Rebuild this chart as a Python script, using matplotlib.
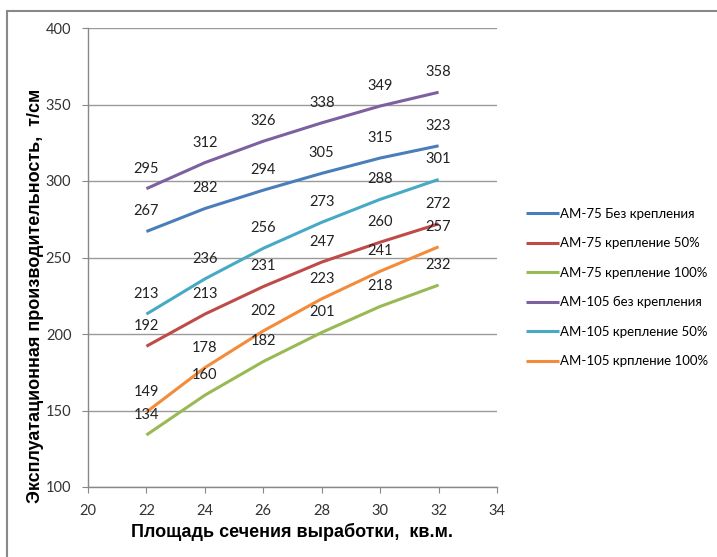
import matplotlib
matplotlib.use("Agg")
import matplotlib.pyplot as plt
from matplotlib.patches import Rectangle

# Cross-section area of the working, sq. m
x_area = [22, 24, 26, 28, 30, 32]

series_names = [
    "АМ-75 Без крепления",
    "АМ-75 крепление 50%",
    "АМ-75 крепление 100%",
    "АМ-105 без крепления",
    "АМ-105 крепление 50%",
    "АМ-105 крпление 100%",
]
am75_none = [267, 282, 294, 305, 315, 323]
am75_50 = [192, 213, 231, 247, 260, 272]
am75_100 = [134, 160, 182, 201, 218, 232]
am105_none = [295, 312, 326, 338, 349, 358]
am105_50 = [213, 236, 256, 273, 288, 301]
am105_100 = [149, 178, 202, 223, 241, 257]

colors = ["#4A7EBB", "#BE4B48", "#98B954", "#7D60A0", "#46AAC5", "#F38B3A"]

x_ticks = [20, 22, 24, 26, 28, 30, 32, 34]
y_ticks = [100, 150, 200, 250, 300, 350, 400]

W, H = 717, 557
fig = plt.figure(figsize=(W / 100, H / 100), dpi=100)
fig.patch.set_facecolor("white")

# outer chart frame
fig.patches.append(Rectangle((7 / W, 1 - 560 / H), 720 / W, 549 / H,
                             transform=fig.transFigure, fill=False,
                             edgecolor="#888888", linewidth=1.5))

left, right, top, bottom = 88, 497, 28, 487
ax = fig.add_axes([left / W, 1 - bottom / H, (right - left) / W, (bottom - top) / H])

label_font = "Lato"
all_series = [am75_none, am75_50, am75_100, am105_none, am105_50, am105_100]
for name, vals, col in zip(series_names, all_series, colors):
    ax.plot(x_area, vals, color=col, linewidth=2.2, label=name,
            solid_capstyle="butt")
    for xv, yv in zip(x_area, vals):
        ax.annotate(str(yv), (xv, yv), xytext=(0, 14.5), textcoords="offset points",
                    ha="center", va="center", fontsize=10.5, family=label_font,
                    color="#222222")

ax.set_xlim(20, 34)
ax.set_ylim(100, 400)
ax.set_xticks(x_ticks)
ax.set_yticks(y_ticks)
ax.tick_params(axis="x", direction="out", length=4, color="#888888",
               labelsize=10.5, labelcolor="#333333", pad=8)
ax.tick_params(axis="y", direction="out", length=4, color="#888888",
               labelsize=10.5, labelcolor="#333333", pad=8)
for lab in ax.get_xticklabels() + ax.get_yticklabels():
    lab.set_family(label_font)

ax.grid(axis="y", color="#9A9A9A", linewidth=1)
ax.set_axisbelow(True)
for s in ["top", "right"]:
    ax.spines[s].set_visible(False)
for s in ["left", "bottom"]:
    ax.spines[s].set_color("#888888")
    ax.spines[s].set_linewidth(1)

fig.text(292 / W, 1 - 532 / H, "Площадь сечения выработки,  кв.м.",
         ha="center", va="center", fontsize=13, fontweight="bold",
         family="Liberation Sans")
fig.text(36 / W, 1 - 296 / H, "Эксплуатационная производительность,  т/см",
         ha="center", va="center", rotation=90, fontsize=13, fontweight="bold",
         family="Liberation Sans")

leg = fig.legend(loc="upper left", bbox_to_anchor=(526 / W, 1 - 208 / H),
                 frameon=False, handlelength=2.5, handletextpad=0.05,
                 borderpad=0, borderaxespad=0,
                 labelspacing=1.32, prop={"family": label_font, "size": 9.5})

fig.savefig("out.png", dpi=100, facecolor="white")
